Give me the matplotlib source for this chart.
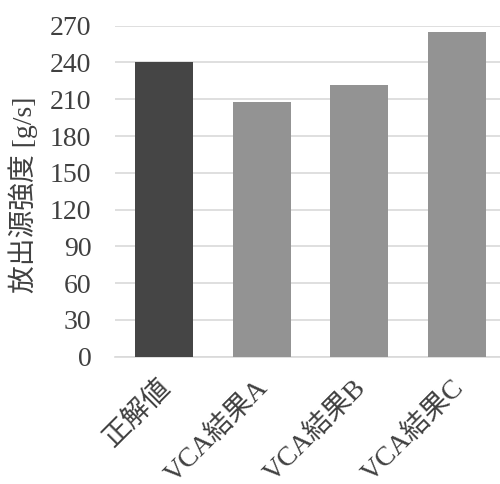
import matplotlib
matplotlib.use("Agg")
import matplotlib.pyplot as plt
from matplotlib.transforms import ScaledTranslation

plt.rcParams['font.family'] = ['Liberation Serif', 'Noto Sans CJK JP']

categories = ['正解値', 'VCA結果A', 'VCA結果B', 'VCA結果C']
values = [240, 208, 222, 265]
bar_colors = ['#454545', '#939393', '#939393', '#939393']
yticks = [0, 30, 60, 90, 120, 150, 180, 210, 240, 270]
ylabel = '放出源強度 [g/s]'

fig = plt.figure(figsize=(5.0, 4.84), dpi=100)
ax = fig.add_axes([0.23, 0.263, 0.7816, 0.684])

x = range(len(categories))
ax.bar(x, values, width=0.594, color=bar_colors, zorder=3)

ax.set_xlim(-0.5, len(categories) - 0.5)
ax.set_ylim(0, 270)
ax.set_yticks(yticks)
ax.set_yticklabels([str(v) for v in yticks])
ax.yaxis.grid(True, color='#d9d9d9', linewidth=1.2, zorder=0)
ax.set_axisbelow(True)

for s in ['top', 'right', 'left']:
    ax.spines[s].set_visible(False)
ax.spines['bottom'].set_color('#d9d9d9')
ax.spines['bottom'].set_linewidth(1.2)

ax.tick_params(axis='y', length=0, pad=17, labelsize=20, labelcolor='#404040')
ax.tick_params(axis='x', length=0, pad=13)
ax.set_xticks(list(x))
ax.set_xticklabels(categories, rotation=45, ha='right', va='top',
                   rotation_mode='anchor', fontsize=20, color='#404040')
shift = ScaledTranslation(-6 / 100, 0, fig.dpi_scale_trans)
for lab in ax.get_xticklabels():
    lab.set_transform(lab.get_transform() + shift)

ax.set_ylabel(ylabel, fontsize=20, color='#404040')
ax.yaxis.set_label_coords(-0.197, 0.488)

fig.savefig('out.png', dpi=100)
